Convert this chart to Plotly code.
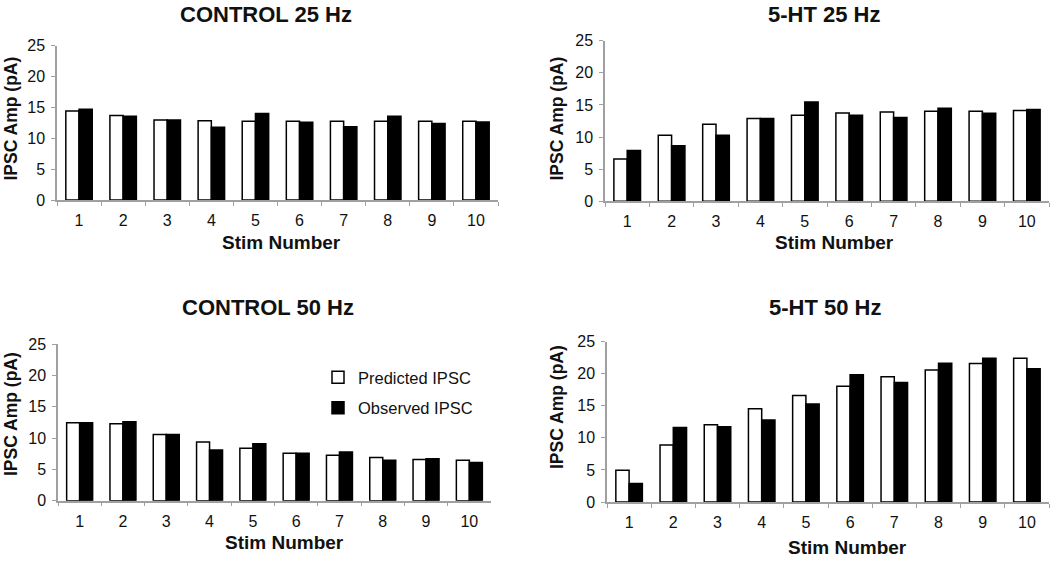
import plotly.graph_objects as go

W, H = 1050, 561

stim = [str(i) for i in range(1, 11)]
y_ticks = [0, 5, 10, 15, 20, 25]

titles = ["CONTROL 25 Hz", "5-HT 25 Hz", "CONTROL 50 Hz", "5-HT 50 Hz"]
x_title = "Stim Number"
y_title = "IPSC Amp (pA)"
series_names = ["Predicted IPSC", "Observed IPSC"]

c25_pred = [14.4, 13.7, 12.95, 12.85, 12.75, 12.75, 12.75, 12.75, 12.75, 12.75]
c25_obs = [14.7, 13.55, 12.95, 11.8, 14.0, 12.6, 11.85, 13.55, 12.4, 12.65]
ht25_pred = [6.6, 10.3, 12.0, 12.9, 13.4, 13.75, 13.9, 14.0, 14.0, 14.15]
ht25_obs = [7.9, 8.65, 10.3, 12.9, 15.45, 13.4, 13.05, 14.5, 13.7, 14.3]
c50_pred = [12.45, 12.3, 10.6, 9.4, 8.4, 7.6, 7.25, 6.9, 6.6, 6.45]
c50_obs = [12.45, 12.6, 10.6, 8.1, 9.1, 7.6, 7.8, 6.45, 6.7, 6.1]
ht50_pred = [4.95, 8.9, 12.05, 14.55, 16.6, 18.05, 19.55, 20.6, 21.6, 22.4]
ht50_obs = [2.9, 11.6, 11.75, 12.8, 15.3, 19.85, 18.65, 21.65, 22.4, 20.8]

panels = [(c25_pred, c25_obs), (ht25_pred, ht25_obs), (c50_pred, c50_obs), (ht50_pred, ht50_obs)]

# pixel geometry of each plot area: (x_left, x_right, y_zero, y_top)
geom = [(57, 498, 200, 45.7), (605, 1049, 201.3, 40.7),
        (58, 491, 500.7, 344.3), (607, 1049, 502, 341.7)]
# (x center, y, yanchor)
title_pos = [(266, 0, "top"), (824, 0, "top"), (268, 307.5, "middle"), (825, 307.5, "middle")]
xt_pos = [(281, 242.5), (834, 242), (284, 542.5), (847, 547)]
yt_pos = [(11, 118.5), (557, 118.5), (11, 414), (557, 407)]

FONT = "Liberation Sans, Arial, sans-serif"
AXC = "#a0a0a0"
TXT = "#111111"

fig = go.Figure()
layout = dict(
    template="none",
    width=W, height=H, margin=dict(l=0, r=0, t=0, b=0, pad=0, autoexpand=False),
    paper_bgcolor="white", plot_bgcolor="white",
    barmode="group", bargap=0.4, bargroupgap=0.0,
    font=dict(family=FONT, color=TXT, size=16),
    showlegend=True,
    legend=dict(x=318 / W, y=1 - 360 / H, xanchor="left", yanchor="top",
                font=dict(size=16.5, family=FONT, color=TXT),
                bgcolor="rgba(0,0,0,0)", borderwidth=0, tracegroupgap=6),
)
annotations = []
for i, (pred, obs) in enumerate(panels):
    xa = "x" if i == 0 else f"x{i+1}"
    ya = "y" if i == 0 else f"y{i+1}"
    show = (i == 2)
    fig.add_trace(go.Bar(x=stim, y=pred, name=series_names[0], xaxis=xa, yaxis=ya,
                         marker=dict(color="white", line=dict(color="black", width=1.5)),
                         legendgroup="pred", showlegend=show))
    fig.add_trace(go.Bar(x=stim, y=obs, name=series_names[1], xaxis=xa, yaxis=ya,
                         marker=dict(color="black", line=dict(color="black", width=1.5)),
                         legendgroup="obs", showlegend=show))
    xl, xr, y0, y25 = geom[i]
    xkey = "xaxis" if i == 0 else f"xaxis{i+1}"
    ykey = "yaxis" if i == 0 else f"yaxis{i+1}"
    layout[xkey] = dict(domain=[xl / W, xr / W], anchor=ya, type="category",
                        showline=True, linecolor=AXC, linewidth=1.5, automargin=False,
                        ticks="outside", tickson="boundaries", ticklen=4, tickcolor=AXC,
                        ticklabelstandoff=5, showgrid=False, zeroline=False,
                        tickfont=dict(size=16, color=TXT))
    layout[ykey] = dict(domain=[1 - y0 / H, 1 - y25 / H], anchor=xa, range=[0, 25],
                        tickvals=y_ticks, showline=True, linecolor=AXC, linewidth=1.5,
                        automargin=False,
                        ticks="outside", ticklen=4, tickcolor=AXC, ticklabelstandoff=3,
                        showgrid=False, zeroline=False,
                        tickfont=dict(size=16, color=TXT))
    tx, ty, tanc = title_pos[i]
    annotations.append(dict(text=f"<b>{titles[i]}</b>", x=tx / W, y=1 - ty / H, xref="paper", yref="paper",
                            xanchor="center", yanchor=tanc, showarrow=False,
                            font=dict(size=22, family=FONT, color=TXT)))
    sx, sy = xt_pos[i]
    annotations.append(dict(text=f"<b>{x_title}</b>", x=sx / W, y=1 - sy / H, xref="paper", yref="paper",
                            xanchor="center", yanchor="middle", showarrow=False,
                            font=dict(size=19, family=FONT, color=TXT)))
    lx, ly = yt_pos[i]
    annotations.append(dict(text=f"<b>{y_title}</b>", x=lx / W, y=1 - ly / H, xref="paper", yref="paper",
                            xanchor="center", yanchor="middle", showarrow=False, textangle=-90,
                            font=dict(size=17.5, family=FONT, color=TXT)))
layout["annotations"] = annotations
fig.update_layout(**layout)
fig.write_html("out.html", config={"displayModeBar": False},
               post_script="document.body.style.margin='0';document.body.style.overflow='hidden';")
